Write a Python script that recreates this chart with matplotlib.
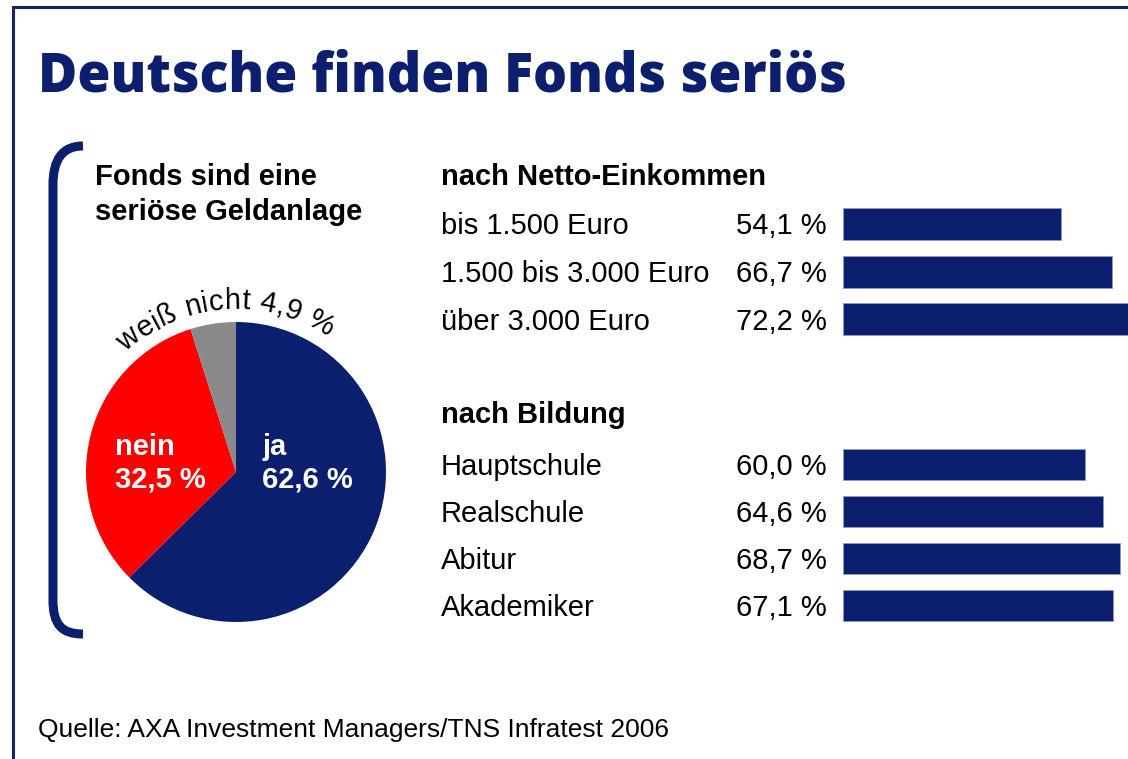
import numpy as np
import matplotlib
matplotlib.use('Agg')
from matplotlib import pyplot as plt
from matplotlib.path import Path
from matplotlib.patches import PathPatch
from matplotlib.font_manager import FontProperties, findfont, get_font

# Daten
pie_labels = ['ja', 'nein', 'weiß nicht']
pie_values = [62.6, 32.5, 4.9]

einkommen_labels = ['bis 1.500 Euro', '1.500 bis 3.000 Euro', 'über 3.000 Euro']
einkommen_values = [54.1, 66.7, 72.2]

bildung_labels = ['Hauptschule', 'Realschule', 'Abitur', 'Akademiker']
bildung_values = [60.0, 64.6, 68.7, 67.1]

navy = '#0c1f6e'
rot = '#ff0000'
grau = '#8a8a8a'
W, H = 1128, 759
font = 'Liberation Sans'


def fmt(v):
    return f'{v:.1f}'.replace('.', ',') + ' %'


def fig_rect(x0, y0, x1, y1):
    # Pixelkoordinaten (y nach unten) -> Figure-Anteile
    return [x0 / W, (H - y1) / H, (x1 - x0) / W, (y1 - y0) / H]


fig = plt.figure(figsize=(W / 100, H / 100), dpi=100)
fig.patch.set_facecolor('white')

# Kreisdiagramm
cx, cy, r = 236, 472, 150
ax_pie = fig.add_axes(fig_rect(cx - r, cy - r, cx + r, cy + r))
ax_pie.pie(pie_values, colors=[navy, rot, grau], startangle=90,
           counterclock=False, radius=1)
ax_pie.set_xlim(-1, 1)
ax_pie.set_ylim(-1, 1)
ax_pie.axis('off')

# Balken
bar_x0 = 842.7
px_per_pct = 4.03
xmax = (W - bar_x0) / px_per_pct

ax_e = fig.add_axes(fig_rect(bar_x0, 200.25, W, 343.25))
ax_e.barh(range(len(einkommen_values)), einkommen_values, height=0.67,
          color=navy, edgecolor='#8c9ac4', linewidth=0.6)
ax_e.set_xlim(0, xmax)
ax_e.set_ylim(len(einkommen_values) - 0.5, -0.5)
ax_e.axis('off')

ax_b = fig.add_axes(fig_rect(bar_x0, 441, W, 629))
ax_b.barh(range(len(bildung_values)), bildung_values, height=0.68,
          color=navy, edgecolor='#8c9ac4', linewidth=0.6)
ax_b.set_xlim(0, xmax)
ax_b.set_ylim(len(bildung_values) - 0.5, -0.5)
ax_b.axis('off')

# Overlay in Pixelkoordinaten fuer Text, Rahmen, Klammer
ax = fig.add_axes([0, 0, 1, 1])
ax.set_xlim(0, W)
ax.set_ylim(H, 0)
ax.axis('off')
ax.patch.set_alpha(0)

# Rahmen (nur oben und links)
ax.plot([13, 13, W + 5], [H + 5, 7, 7], color='#1a2266', lw=2.2,
        solid_joinstyle='miter')

# Titel
ax.text(38, 92, 'Deutsche finden Fonds seriös', color=navy, fontsize=38.6,
        fontfamily='Open Sans', fontweight='heavy', va='baseline')

# Klammer
verts = [(83, 146), (62, 146), (53, 160), (53, 185),
         (53, 600), (53, 625), (62, 634), (83, 634)]
codes = [Path.MOVETO, Path.CURVE4, Path.CURVE4, Path.CURVE4,
         Path.LINETO, Path.CURVE4, Path.CURVE4, Path.CURVE4]
ax.add_patch(PathPatch(Path(verts, codes), fill=False, edgecolor=navy,
                       lw=6.5, capstyle='butt'))

# Untertitel links
ax.text(95, 185, 'Fonds sind eine', fontsize=21, fontfamily=font,
        fontweight='bold', va='baseline')
ax.text(95, 220, 'seriöse Geldanlage', fontsize=21, fontfamily=font,
        fontweight='bold', va='baseline')

# Beschriftung im Kreis
ax.text(262, 455, pie_labels[0], color='white', fontsize=21, fontfamily=font,
        fontweight='bold', va='baseline')
ax.text(262, 488, fmt(pie_values[0]), color='white', fontsize=21,
        fontfamily=font, fontweight='bold', va='baseline')
ax.text(115, 455, pie_labels[1], color='white', fontsize=21, fontfamily=font,
        fontweight='bold', va='baseline')
ax.text(115, 488, fmt(pie_values[1]), color='white', fontsize=21,
        fontfamily=font, fontweight='bold', va='baseline')

# Gebogener Text "weiß nicht 4,9 %"
bogen = pie_labels[2] + ' ' + fmt(pie_values[2])
bogen_size = 21
ft = get_font(findfont(FontProperties(family=font)))
ft.set_size(bogen_size, 100)
adv = []
for c in bogen:
    g = ft.load_char(ord(c))
    adv.append(g.linearHoriAdvance)
adv = np.array(adv, dtype=float)

# Gesamtbreite messen und Vorschuebe darauf skalieren
probe = ax.text(0, 0, bogen, fontsize=bogen_size, fontfamily=font)
fig.canvas.draw()
breite = probe.get_window_extent().width
probe.remove()
adv = adv / adv.sum() * breite * 1.03

total = adv.sum()
R = 163
theta_c = np.radians(94)
pos = np.cumsum(adv) - adv / 2
for c, s in zip(bogen, pos):
    th = theta_c + (total / 2 - s) / R
    ax.text(cx + R * np.cos(th), cy - R * np.sin(th), c, fontsize=bogen_size,
            fontfamily=font, ha='center', va='baseline',
            rotation=np.degrees(th) - 90, rotation_mode='anchor')

# Rechte Seite: Ueberschriften und Zeilen
ax.text(441, 185, 'nach Netto-Einkommen', fontsize=21, fontfamily=font,
        fontweight='bold', va='baseline')
ax.text(441, 423, 'nach Bildung', fontsize=21, fontfamily=font,
        fontweight='bold', va='baseline')

for i, (lab, v) in enumerate(zip(einkommen_labels, einkommen_values)):
    y = 224 + i * 47.75 + 10.5
    ax.text(441, y, lab, fontsize=21, fontfamily=font, va='baseline')
    ax.text(827, y, fmt(v), fontsize=21, fontfamily=font, va='baseline',
            ha='right')

for i, (lab, v) in enumerate(zip(bildung_labels, bildung_values)):
    y = 464.5 + i * 47 + 10.5
    ax.text(441, y, lab, fontsize=21, fontfamily=font, va='baseline')
    ax.text(827, y, fmt(v), fontsize=21, fontfamily=font, va='baseline',
            ha='right')

# Quelle
ax.text(38, 737, 'Quelle: AXA Investment Managers/TNS Infratest 2006',
        fontsize=19, fontfamily=font, va='baseline')

fig.savefig('out.png', dpi=100)
